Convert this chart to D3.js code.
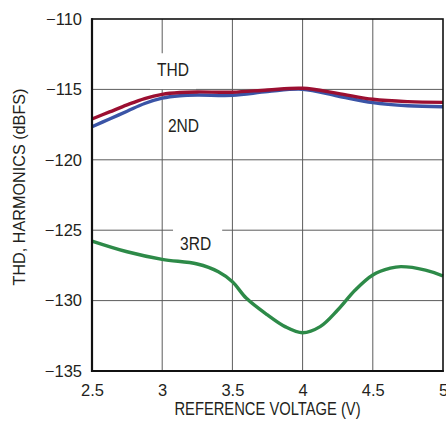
<!DOCTYPE html>
<html>
<head>
<meta charset="utf-8">
<script src="https://cdn.jsdelivr.net/npm/d3@7/dist/d3.min.js"></script>
<style>
  html, body { margin: 0; padding: 0; background: #fff; }
  svg { display: block; }
  text { font-family: "Liberation Sans", Arial, sans-serif; fill: #231f20; }
</style>
</head>
<body>
<svg id="chart" width="446" height="423"></svg>
<script>
// Reference voltage sweep (V) and the measured THD / harmonic levels (dBFS)
const voltage = [2.5, 2.625, 2.75, 2.875, 3.0, 3.125, 3.25, 3.5, 3.75, 4.0, 4.25, 4.5, 4.75, 5.0];
const thd     = [-117.1, -116.6, -116.1, -115.65, -115.35, -115.22, -115.18, -115.2, -115.04, -114.92, -115.28, -115.7, -115.87, -115.92];
const second  = [-117.65, -117.1, -116.55, -116.0, -115.62, -115.45, -115.4, -115.42, -115.16, -114.99, -115.47, -115.94, -116.16, -116.23];

const voltage3 = [2.5, 2.75, 3.0, 3.25, 3.4, 3.5, 3.6, 3.75, 3.875, 4.0, 4.125, 4.25, 4.375, 4.5, 4.625, 4.7, 4.875, 5.0];
const third    = [-125.77, -126.53, -127.07, -127.4, -127.95, -128.66, -129.84, -131.02, -131.85, -132.28, -131.85, -130.67, -129.25, -128.18, -127.7, -127.59, -127.83, -128.25];

const xTicks = [2.5, 3, 3.5, 4, 4.5, 5];
const yTicks = [-135, -130, -125, -120, -115, -110];

const svg = d3.select("#chart");
const W = 446, H = 423;
const margin = { top: 19, right: 3, bottom: 52, left: 92 };

const x = d3.scaleLinear().domain([2.5, 5]).range([margin.left, W - margin.right]);
const y = d3.scaleLinear().domain([-135, -110]).range([H - margin.bottom, margin.top]);

const fmt = d => String(d).replace("-", "\u2212");
const squeeze = 0.82; // horizontal compression for the condensed lettering

// grid
const grid = svg.append("g").attr("stroke", "#5c5c5c").attr("stroke-width", 1);
grid.selectAll("line.v").data(xTicks.slice(1, -1)).join("line")
  .attr("x1", d => x(d)).attr("x2", d => x(d))
  .attr("y1", y(-110)).attr("y2", y(-135));
grid.selectAll("line.h").data(yTicks.slice(1, -1)).join("line")
  .attr("x1", x(2.5)).attr("x2", x(5))
  .attr("y1", d => y(d)).attr("y2", d => y(d));

// series labels; some sit on white boxes that interrupt the grid
// pad = [top, right, bottom, left] in screen pixels
const labels = [
  { text: "THD", v: 2.963, db: -114.03, pad: [5, 7, 9, 7] },
  { text: "2ND", v: 3.041, db: -118.05, pad: null },
  { text: "3RD", v: 3.127, db: -126.41, pad: [10, 11, 4, 7] }
];
const lg = svg.append("g");
labels.forEach(l => {
  const g = lg.append("g")
    .attr("transform", `translate(${x(l.v)},${y(l.db)}) scale(${squeeze},1)`);
  const t = g.append("text").attr("font-size", 19).text(l.text);
  if (l.pad) {
    const b = t.node().getBBox();
    const [pt, pr, pb, pl] = l.pad;
    g.insert("rect", "text")
      .attr("x", b.x - pl / squeeze).attr("y", b.y - pt)
      .attr("width", b.width + (pl + pr) / squeeze).attr("height", b.height + pt + pb)
      .attr("fill", "#fff");
  }
});

// curves
const line = d3.line().curve(d3.curveCatmullRom.alpha(0.5));
const series = [
  { xs: voltage, ys: second, color: "#3a54a6" },
  { xs: voltage, ys: thd, color: "#9b0f31" },
  { xs: voltage3, ys: third, color: "#2d8a48" }
];
svg.append("g").selectAll("path").data(series).join("path")
  .attr("fill", "none")
  .attr("stroke", d => d.color)
  .attr("stroke-width", 3.4)
  .attr("stroke-linejoin", "round")
  .attr("d", d => line(d.xs.map((v, i) => [x(v), y(d.ys[i])])));

// frame
svg.append("rect")
  .attr("x", x(2.5)).attr("y", y(-110))
  .attr("width", x(5) - x(2.5)).attr("height", y(-135) - y(-110))
  .attr("fill", "none").attr("stroke", "#111").attr("stroke-width", 1.6);
svg.append("line").attr("x1", x(2.5)).attr("x2", x(2.5))
  .attr("y1", y(-110) - 0.8).attr("y2", y(-135) + 1)
  .attr("stroke", "#111").attr("stroke-width", 2.2);
svg.append("line").attr("x1", x(2.5) - 1).attr("x2", x(5) + 0.8)
  .attr("y1", y(-135)).attr("y2", y(-135))
  .attr("stroke", "#111").attr("stroke-width", 2.2);

// axes (labels only)
const yAxis = d3.axisLeft(y).tickValues(yTicks).tickSize(0).tickPadding(10).tickFormat(fmt);
svg.append("g").attr("transform", `translate(${margin.left},0)`).call(yAxis)
  .call(g => g.select(".domain").remove())
  .selectAll("text").attr("font-size", 16.5).attr("font-family", null).attr("fill", "#231f20");

const xAxis = d3.axisBottom(x).tickValues(xTicks).tickSize(0).tickPadding(13).tickFormat(d3.format(""));
svg.append("g").attr("transform", `translate(0,${H - margin.bottom})`).call(xAxis)
  .call(g => g.select(".domain").remove())
  .selectAll("text").attr("font-size", 16.5).attr("font-family", null).attr("fill", "#231f20");

// axis titles
svg.append("text")
  .attr("transform", `translate(${x(3.75)},415) scale(${squeeze},1)`)
  .attr("text-anchor", "middle").attr("font-size", 18)
  .text("REFERENCE VOLTAGE (V)");
svg.append("text")
  .attr("transform", "translate(25,187) rotate(-90)")
  .attr("text-anchor", "middle").attr("font-size", 16.2)
  .text("THD, HARMONICS (dBFS)");
</script>
</body>
</html>
